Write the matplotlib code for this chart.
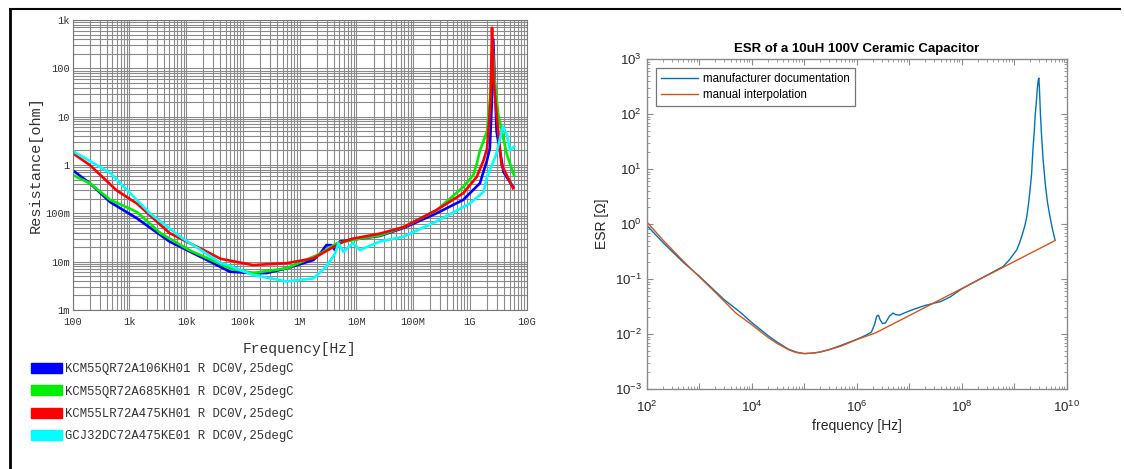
import math
import matplotlib
matplotlib.use("Agg")
import matplotlib.pyplot as plt
from matplotlib.lines import Line2D
from matplotlib.patches import Patch
from matplotlib.ticker import LogLocator, NullFormatter, FixedLocator, FuncFormatter

# ---- left chart: measured resistance of four parts ----
part_names = [
    "KCM55QR72A106KH01 R DC0V,25degC",
    "KCM55QR72A685KH01 R DC0V,25degC",
    "KCM55LR72A475KH01 R DC0V,25degC",
    "GCJ32DC72A475KE01 R DC0V,25degC",
]
part_colors = ["#0000ff", "#00ee00", "#ff0000", "#00ffff"]

f_blue = [1e2, 2e2, 4.6e2, 1.35e3, 5.1e3, 2e4, 5.9e4, 1.5e5, 2.6e5, 5.9e5, 1.74e6, 2.3e6,
          2.95e6, 3.6e6, 4.2e6, 5.1e6, 1.15e7, 2.57e7, 6.8e7, 2.57e8, 7.6e8, 1.5e9, 2.0e9,
          2.24e9, 2.43e9, 2.57e9, 2.95e9, 3.9e9, 5.75e9]
r_blue = [0.78, 0.42, 0.17, 0.079, 0.026, 0.0118, 0.0062, 0.0058, 0.0058, 0.0073, 0.0108, 0.0148,
          0.022, 0.022, 0.0174, 0.026, 0.030, 0.034, 0.050, 0.10, 0.19, 0.42, 1.26,
          2.2, 20, 400, 4.9, 0.72, 0.35]

f_green = [1e2, 2e2, 4.6e2, 1.35e3, 3.5e3, 1.17e4, 5.9e4, 1.5e5, 5.9e5, 2.3e6, 4.5e6, 1.15e7,
           2.57e7, 6.8e7, 2.57e8, 7.6e8, 1.15e9, 1.32e9, 1.5e9, 2.0e9, 2.3e9, 2.5e9, 2.7e9,
           3.16e9, 4.5e9, 6.0e9]
r_green = [0.62, 0.42, 0.19, 0.107, 0.039, 0.017, 0.0073, 0.0058, 0.0073, 0.0146, 0.024, 0.030,
           0.035, 0.052, 0.115, 0.35, 0.62, 1.07, 2.0, 4.9, 30, 300, 60,
           11, 1.6, 0.62]

f_red = [1e2, 2e2, 5.9e2, 1.35e3, 5.1e3, 2.6e4, 4e4, 1.5e5, 5.9e5, 1.74e6, 3.9e6, 5.9e6,
         8.7e6, 2.57e7, 6.8e7, 2.57e8, 7.6e8, 1.32e9, 1.74e9, 2.0e9, 2.3e9, 2.45e9, 2.6e9,
         2.95e9, 3.6e9, 5.1e9, 5.75e9]
r_red = [1.75, 1.0, 0.30, 0.16, 0.039, 0.015, 0.0115, 0.0085, 0.0093, 0.0117, 0.020, 0.026,
         0.030, 0.038, 0.052, 0.117, 0.26, 0.57, 1.26, 2.2, 20, 690, 60,
         11, 1.0, 0.45, 0.33]

f_cyan = [1e2, 4.6e2, 2.3e3, 7.8e3, 4e4, 5.9e4, 1.5e5, 5.9e5, 1.74e6, 2.95e6, 4.2e6, 4.8e6,
          5.9e6, 7.2e6, 8.7e6, 1.15e7, 2.57e7, 6.8e7, 2.57e8, 1e9, 1.74e9, 2.0e9, 2.75e9,
          2.95e9, 3.8e9, 4.5e9, 5.1e9, 6.0e9]
r_cyan = [1.95, 0.68, 0.10, 0.033, 0.0095, 0.0082, 0.0053, 0.0039, 0.0045, 0.0079, 0.0148, 0.024,
          0.016, 0.020, 0.024, 0.0174, 0.026, 0.033, 0.068, 0.16, 0.28, 0.57, 1.4,
          1.8, 6.2, 4.2, 2.0, 2.4]

x_ticks_left = [1e2, 1e3, 1e4, 1e5, 1e6, 1e7, 1e8, 1e9, 1e10]
x_labels_left = ["100", "1k", "10k", "100k", "1M", "10M", "100M", "1G", "10G"]
y_ticks_left = [1e-3, 1e-2, 1e-1, 1, 10, 100, 1e3]
y_labels_left = ["1m", "10m", "100m", "1", "10", "100", "1k"]

# ---- right chart: ESR model ----
f_doc = [1e2, 2e2, 5e2, 1e3, 3e3, 6e3, 1e4, 2e4, 3e4, 5e4, 7e4, 1e5, 1.5e5, 2e5, 3e5, 5e5,
         1e6, 1.5e6, 1.9e6, 2.2e6, 2.4e6, 2.6e6, 2.8e6, 3.1e6, 3.5e6, 4.2e6, 4.9e6, 5.5e6,
         6.5e6, 8e6, 1.2e7, 2e7, 4e7, 6e7, 1e8, 2e8, 4e8, 6.2e8, 8e8, 1.12e9, 1.26e9, 1.41e9,
         1.58e9, 1.74e9, 1.9e9, 2.04e9, 2.14e9, 2.29e9, 2.4e9, 2.5e9, 2.63e9, 2.75e9, 2.88e9,
         2.95e9, 3.02e9, 3.16e9, 3.3e9, 3.55e9, 3.9e9, 4.27e9, 4.8e9, 5.37e9, 6e9]
r_doc = [0.95, 0.47, 0.2, 0.113, 0.042, 0.025, 0.0162, 0.0095, 0.0072, 0.0053, 0.0047, 0.0044,
         0.0045, 0.0047, 0.0052, 0.0062, 0.0080, 0.0095, 0.0108, 0.015, 0.021, 0.022, 0.018,
         0.0155, 0.0158, 0.021, 0.024, 0.0225, 0.022, 0.024, 0.028, 0.033, 0.039, 0.047, 0.066,
         0.095, 0.135, 0.17, 0.22, 0.34, 0.45, 0.62, 0.9, 1.36, 2.6, 5, 8, 25, 45, 89, 160,
         280, 420, 450, 300, 100, 45, 15, 5.5, 2.6, 1.36, 0.8, 0.51]

f_interp = [1e2, 2e2, 5e2, 1e3, 2e3, 5e3, 1e4, 2e4, 3e4, 5e4, 7e4, 1e5, 1.5e5, 2e5, 3e5, 5e5,
            1e6, 2.3e6, 6e9]
r_interp = [1.1, 0.52, 0.21, 0.11, 0.058, 0.024, 0.0148, 0.0088, 0.0068, 0.0052, 0.0046, 0.0044,
            0.0045, 0.0047, 0.0052, 0.006, 0.0079, 0.0105, 0.5]

W, H = 1124, 469
fig = plt.figure(figsize=(W / 100, H / 100), dpi=100)

# outer frame (top and left edges of the scanned page)
fig.add_artist(Line2D([10 / W, 1120 / W], [1 - 9 / H, 1 - 9 / H], transform=fig.transFigure,
                      color="black", lw=1.5))
fig.add_artist(Line2D([10 / W, 10 / W], [0, 1 - 9 / H], transform=fig.transFigure,
                      color="black", lw=2))

# left
mono = "Liberation Mono"
ax1 = fig.add_axes([72.7 / W, 159 / H, 454 / W, 290 / H])
series = [(f_blue, r_blue), (f_green, r_green), (f_red, r_red), (f_cyan, r_cyan)]
for (f, r), c in zip(series, part_colors):
    ax1.plot(f, r, color=c, lw=1.9, solid_joinstyle="round")
ax1.set_xscale("log")
ax1.set_yscale("log")
ax1.set_xlim(1e2, 1e10)
ax1.set_ylim(1e-3, 1e3)
ax1.xaxis.set_major_locator(FixedLocator(x_ticks_left))
ax1.yaxis.set_major_locator(FixedLocator(y_ticks_left))
ax1.set_xticklabels(x_labels_left, family=mono, fontsize=7.5, color="#333333")
ax1.set_yticklabels(y_labels_left, family=mono, fontsize=7.5, color="#333333")
ax1.xaxis.set_minor_locator(LogLocator(base=10, subs=range(2, 10), numticks=20))
ax1.yaxis.set_minor_locator(LogLocator(base=10, subs=range(2, 10), numticks=20))
ax1.xaxis.set_minor_formatter(NullFormatter())
ax1.yaxis.set_minor_formatter(NullFormatter())
ax1.tick_params(which="both", length=0)
ax1.tick_params(axis="x", pad=5)
ax1.tick_params(axis="y", pad=2)
ax1.grid(True, which="both", color="#8a8a8a", lw=0.8)
ax1.set_axisbelow(True)
for s in ax1.spines.values():
    s.set_color("#777777")
ax1.set_xlabel("Frequency[Hz]", family=mono, fontsize=10.5, color="#333333", labelpad=11)
ax1.set_ylabel("Resistance[ohm]", family=mono, fontsize=11, color="#333333")
ax1.yaxis.set_label_coords(-0.066, 0.5)

handles = [Patch(facecolor=c, edgecolor=c) for c in part_colors]
fig.legend(handles, part_names, loc="upper left", bbox_to_anchor=(31 / W, 1 - 363 / H),
           frameon=False, prop={"family": mono, "size": 8.8}, handlelength=2.5,
           handleheight=0.9, handletextpad=0.3, labelspacing=0.82, borderpad=0,
           borderaxespad=0, labelcolor="#333333")

# right
plt.rcParams["mathtext.default"] = "regular"
sans = "Liberation Sans"
ax2 = fig.add_axes([646.7 / W, 80 / H, 420 / W, 330 / H])
ax2.plot(f_doc, r_doc, color=(0, 0.447, 0.741), lw=1.0, label="manufacturer documentation")
ax2.plot(f_interp, r_interp, color=(0.85, 0.325, 0.098), lw=1.0, label="manual interpolation")
ax2.set_xscale("log")
ax2.set_yscale("log")
ax2.set_xlim(1e2, 1e10)
ax2.set_ylim(1e-3, 1e3)
ax2.xaxis.set_major_locator(LogLocator(base=10, numticks=20))
ax2.yaxis.set_major_locator(LogLocator(base=10, numticks=20))


def even_pow(v, pos):
    e = int(round(math.log10(v)))
    return r"$10^{%d}$" % e if e % 2 == 0 else ""


def any_pow(v, pos):
    e = int(round(math.log10(v)))
    return r"$10^{%d}$" % e


ax2.xaxis.set_major_formatter(FuncFormatter(even_pow))
ax2.yaxis.set_major_formatter(FuncFormatter(any_pow))
ax2.xaxis.set_minor_locator(LogLocator(base=10, subs=range(2, 10), numticks=20))
ax2.yaxis.set_minor_locator(LogLocator(base=10, subs=range(2, 10), numticks=20))
ax2.xaxis.set_minor_formatter(NullFormatter())
ax2.yaxis.set_minor_formatter(NullFormatter())
ax2.tick_params(which="both", direction="in", top=True, right=True, colors="#8a8a8a",
                labelcolor="#262626", labelsize=9.5)
ax2.tick_params(which="major", length=4, width=0.8)
ax2.tick_params(which="minor", length=2, width=0.6)
ax2.tick_params(axis="x", pad=8)
for lab in ax2.get_xticklabels() + ax2.get_yticklabels():
    lab.set_family(sans)
for s in ax2.spines.values():
    s.set_color("#8a8a8a")
    s.set_linewidth(1.0)
ax2.set_title("ESR of a 10uH 100V Ceramic Capacitor", family=sans, fontsize=9.5,
              fontweight="bold", pad=5)
ax2.set_xlabel("frequency [Hz]", family=sans, fontsize=10, color="#262626", labelpad=3)
ax2.set_ylabel("ESR [Ω]", family=sans, fontsize=10, color="#262626", labelpad=4)
leg = ax2.legend(loc="upper left", prop={"family": sans, "size": 8.3}, fancybox=False,
                 edgecolor="#777777", framealpha=1, borderaxespad=0.8, handlelength=3.2,
                 handletextpad=0.4, borderpad=0.45, labelspacing=0.3)
leg.get_frame().set_linewidth(0.9)

fig.savefig("out.png", dpi=100)
